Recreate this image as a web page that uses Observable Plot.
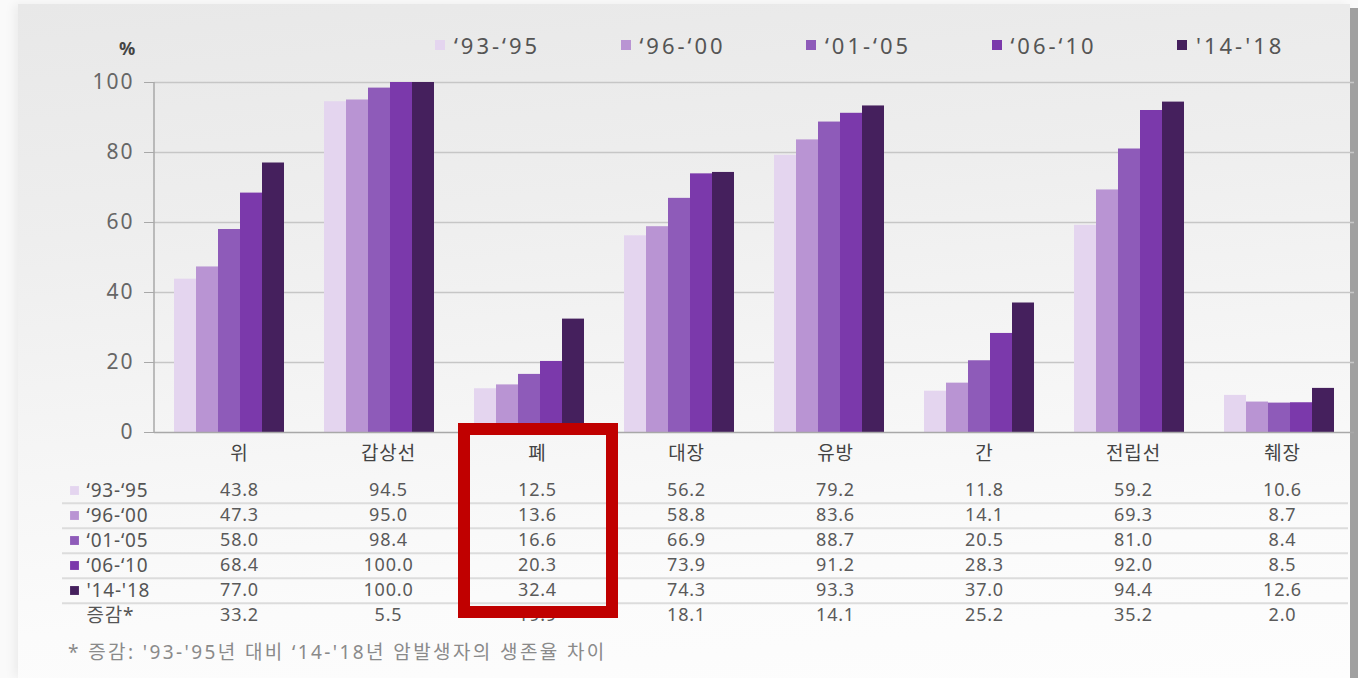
<!DOCTYPE html>
<html>
<head>
<meta charset="utf-8">
<script src="https://cdn.jsdelivr.net/npm/d3@7"></script>
<script src="https://cdn.jsdelivr.net/npm/@observablehq/plot@0.6"></script>
<style>
  html, body { margin: 0; padding: 0; background: #ffffff; }
  #wrap { position: relative; width: 1358px; height: 678px; overflow: hidden; background: #fafafa; font-family: "Noto Sans", "Noto Sans CJK KR", sans-serif; }
  #panel { position: absolute; left: 18px; top: 4px; width: 1332px; height: 674px;
    background: linear-gradient(175deg, #e8e8e8 0%, #eeeeee 30%, #f6f6f6 60%, #fbfbfb 80%, #fdfdfd 100%);
    box-shadow: -4px 0 10px rgba(0,0,0,0.06); }
  #scroll { position: absolute; left: 1350px; top: 8px; width: 8px; height: 670px; background: #a0a0a0; }
  .abs { position: absolute; }
  #legend { position: absolute; left: 435px; top: 30px; display: flex; font-size: 22px; color: #555; letter-spacing: 3px; }
  #legend .item { width: 185.5px; display: flex; align-items: center; }
  #legend .sw { width: 10px; height: 10px; margin-right: 9px; }
  #pct { position: absolute; left: 119px; top: 36px; font-size: 18px; font-weight: bold; color: #444; }
  #note { position: absolute; left: 68px; top: 637px; font-size: 19px; color: #8a8a8a; letter-spacing: 2.4px; }
  #redbox { position: absolute; border: 12px solid #c00000; box-sizing: border-box; }
</style>
</head>
<body>
<div id="wrap">
  <div id="panel"></div>
  <div id="scroll"></div>
  <div id="pct">%</div>
  <div id="legend"></div>
  <div id="chart" class="abs" style="left:0;top:0"></div>
  <div id="table" class="abs" style="left:0;top:430px"></div>
  <div id="redbox"></div>
  <div id="note">* 증감: '93-'95년 대비 ‘14-'18년 암발생자의 생존율 차이</div>
</div>
<script>
// ---- data ----
const categories = ["위", "갑상선", "폐", "대장", "유방", "간", "전립선", "췌장"];
const periods = ["‘93-‘95", "‘96-‘00", "‘01-‘05", "‘06-‘10", "'14-'18"];
const colors = ["#e4d5ef", "#b994d3", "#8e5bb9", "#7b39ab", "#45205d"];
const v9395 = [43.8, 94.5, 12.5, 56.2, 79.2, 11.8, 59.2, 10.6];
const v9600 = [47.3, 95.0, 13.6, 58.8, 83.6, 14.1, 69.3, 8.7];
const v0105 = [58.0, 98.4, 16.6, 66.9, 88.7, 20.5, 81.0, 8.4];
const v0610 = [68.4, 100.0, 20.3, 73.9, 91.2, 28.3, 92.0, 8.5];
const v1418 = [77.0, 100.0, 32.4, 74.3, 93.3, 37.0, 94.4, 12.6];
const diffs = [33.2, 5.5, 19.9, 18.1, 14.1, 25.2, 35.2, 2.0];
const diffLabel = "증감*";
const yTicks = [0, 20, 40, 60, 80, 100];

const seriesValues = [v9395, v9600, v0105, v0610, v1418];
const FONT = '"Noto Sans", "Noto Sans CJK KR", sans-serif';

const rows = [];
periods.forEach((p, i) => categories.forEach((c, j) => rows.push({cat: c, period: p, value: seriesValues[i][j]})));

const rowLabels = [...periods, diffLabel];
const cells = [];
rowLabels.forEach((r, i) => categories.forEach((c, j) => {
  const v = i < periods.length ? seriesValues[i][j] : diffs[j];
  cells.push({cat: c, row: r, label: v.toFixed(1)});
}));

// ---- legend ----
const legend = document.getElementById("legend");
periods.forEach((p, i) => {
  const it = document.createElement("div"); it.className = "item";
  const sw = document.createElement("span"); sw.className = "sw"; sw.style.background = colors[i];
  const tx = document.createElement("span"); tx.textContent = p;
  it.appendChild(sw); it.appendChild(tx); legend.appendChild(it);
});

// ---- chart ----
const chart = Plot.plot({
  width: 1358, height: 440,
  marginTop: 82, marginBottom: 8, marginLeft: 152, marginRight: 3,
  style: {background: "transparent", fontFamily: FONT, fontSize: "21px", color: "#666", overflow: "visible", letterSpacing: "2px"},
  fx: {domain: categories, padding: 0, axis: null},
  x: {domain: periods, paddingInner: 0, paddingOuter: 0.887, axis: null},
  y: {domain: [0, 100], axis: null},
  color: {domain: periods, range: colors},
  marks: [
    Plot.ruleY(yTicks.filter(t => t > 0), {stroke: "#c6c6c6", strokeWidth: 1.5}),
    Plot.barY(rows, {fx: "cat", x: "period", y: "value", fill: "period"}),
    Plot.ruleY([0], {stroke: "#a8a8a8", strokeWidth: 1.5}),
    Plot.axisY(yTicks, {anchor: "left", tickSize: 10, tickPadding: 10, stroke: "#a8a8a8", fill: "#666", fontSize: 21, label: null})
  ]
});
document.getElementById("chart").appendChild(chart);
{
  const fx = chart.scale("fx"), y = chart.scale("y");
  d3.select(chart).append("line")
    .attr("x1", fx.apply(categories[0])).attr("x2", fx.apply(categories[0]))
    .attr("y1", y.apply(0)).attr("y2", y.apply(100))
    .attr("stroke", "#a8a8a8").attr("stroke-width", 1.5);
}

// ---- table ----
const table = Plot.plot({
  width: 1358, height: 205,
  marginTop: 23, marginBottom: 0, marginLeft: 62, marginRight: 10,
  style: {background: "transparent", fontFamily: FONT, fontSize: "18px", color: "#555", letterSpacing: "0.8px"},
  x: {type: "point", domain: categories, range: [239, 1282], padding: 0, axis: null},
  y: {type: "point", domain: rowLabels, range: [59, 186.5], padding: 0, axis: null},
  color: {domain: periods, range: colors},
  marks: [
    Plot.ruleY(periods, {y: d => d, dy: 12.75, stroke: "#dcdcdc", strokeWidth: 2}),
    Plot.text(categories, {x: d => d, frameAnchor: "top", lineAnchor: "middle", fontSize: 19, fill: "#444", style: "letter-spacing:2px"}),
    Plot.text(cells, {x: "cat", y: "row", text: "label", fontSize: 18, fill: "#5a5a5a"}),
    Plot.dot(periods, {y: d => d, frameAnchor: "left", symbol: "square", fill: d => d, r: 5, dx: 12}),
    Plot.text(rowLabels, {y: d => d, frameAnchor: "left", textAnchor: "start", dx: 24, fontSize: 19, fill: "#555", style: "letter-spacing:1.5px"})
  ]
});
document.getElementById("table").appendChild(table);

// ---- highlight box around 폐 column ----
{
  const tx = table.scale("x");
  const box = document.getElementById("redbox");
  box.style.left = (tx.apply("폐") - 79) + "px";
  box.style.width = "160px";
  box.style.top = "423px";
  box.style.height = "195px";
}
</script>
</body>
</html>
